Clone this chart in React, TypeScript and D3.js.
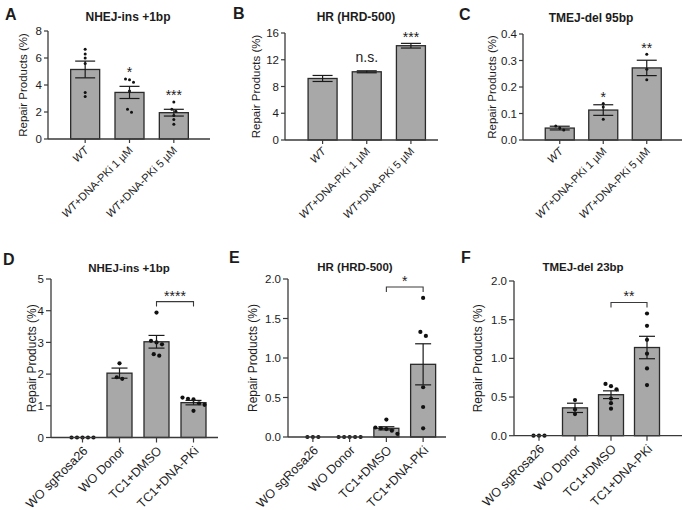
import React from "react";
import * as d3 from "d3";

// ---------- DATA ----------
const catsTop = ["WT", "WT+DNA-PKi 1 µM", "WT+DNA-PKi 5 µM"];
const catsBottom = ["WO sgRosa26", "WO Donor", "TC1+DMSO", "TC1+DNA-PKi"];

const meanA = [5.15, 3.45, 1.95];
const semA = [0.62, 0.45, 0.25];
const ptsA = [
  [6.65, 6.3, 6.0, 5.6, 3.45, 3.15],
  [4.45, 4.38, 4.2, 3.55, 2.2, 1.98],
  [2.75, 2.2, 2.05, 1.75, 1.45, 1.1],
];
const sigA = ["", "*", "***"];

const meanB = [9.2, 10.2, 14.1];
const semB = [0.45, 0.15, 0.35];
const ptsB: number[][] = [[], [], []];
const sigB = ["", "n.s.", "***"];

const meanC = [0.045, 0.113, 0.272];
const semC = [0.007, 0.02, 0.029];
const ptsC = [
  [0.053, 0.045, 0.038],
  [0.138, 0.125, 0.078],
  [0.324, 0.267, 0.227],
];
const sigC = ["", "*", "**"];

const meanD = [0, 2.03, 3.02, 1.1];
const semD = [0, 0.16, 0.2, 0.07];
const ptsD = [
  [0, 0, 0, 0, 0],
  [2.34, 1.9, 1.85],
  [3.94, 3.05, 3.0, 2.94, 2.63, 2.58],
  [1.26, 1.22, 1.2, 1.08, 1.03, 0.84],
];
const sigD = "****";

const meanE = [0, 0, 0.11, 0.92];
const semE = [0, 0, 0.02, 0.26];
const ptsE = [
  [0, 0, 0],
  [0, 0, 0, 0, 0],
  [0.22, 0.12, 0.11, 0.1, 0.08, 0.04],
  [1.76, 1.33, 1.28, 0.63, 0.38, 0.11],
];
const sigE = "*";

const meanF = [0, 0.36, 0.53, 1.14];
const semF = [0, 0.06, 0.05, 0.145];
const ptsF = [
  [0, 0, 0],
  [0.46, 0.34, 0.28],
  [0.67, 0.64, 0.6, 0.48, 0.42, 0.35],
  [1.58, 1.42, 1.24, 1.06, 0.87, 0.655],
];
const sigF = "**";

// ---------- STYLE ----------
const FONT = "'Liberation Sans', Arial, sans-serif";
const TXT = "#1c1c1c";
const AXIS = "#3a3a3a";
const BAR_FILL = "#a8a8a8";
const BAR_STROKE = "#2a2a2a";

type Layout = {
  axisX: number;
  right: number;
  top: number;
  bottom: number;
  xr: [number, number];
  barW: number;
  capW: number;
  r: number;
  gap: number;
  letter: [number, number];
  titleX: number;
  titleY: number;
  yLabelX: number;
  yLabelSize: number;
  tickLen: number;
  xLabelSize: number;
  xLabelOff: [number, number];
  row: "top" | "bottom";
};

type Cfg = {
  letter: string;
  title: string;
  cats: string[];
  means: number[];
  sems: number[];
  pts: number[][];
  yMax: number;
  yStep: number;
  fmt: string;
  sig: string[] | null;
  bracket: string | null;
  L: Layout;
};

function jitter(ys: number[], r: number, gap: number) {
  const idx = ys.map((y, i) => ({ y, i })).sort((a, b) => a.y - b.y);
  const offs = new Array(ys.length).fill(0);
  let cluster: { y: number; i: number }[] = [];
  const flush = () => {
    const n = cluster.length;
    cluster.forEach((c, k) => (offs[c.i] = (k - (n - 1) / 2) * gap));
    cluster = [];
  };
  for (const p of idx) {
    if (cluster.length && p.y - cluster[cluster.length - 1].y > 2 * r) flush();
    cluster.push(p);
  }
  flush();
  return offs;
}

function XLabel({ text, x, y, size }: { text: string; x: number; y: number; size: number }) {
  const italic = text.startsWith("WT");
  return (
    <text
      transform={`translate(${x},${y}) rotate(-45)`}
      textAnchor="end"
      fontSize={size}
      fontFamily={FONT}
      fill={TXT}
    >
      {italic ? (
        <>
          <tspan fontStyle="italic">WT</tspan>
          <tspan>{text.slice(2)}</tspan>
        </>
      ) : (
        text
      )}
    </text>
  );
}

function Panel({ c }: { c: Cfg }) {
  const L = c.L;
  const x = d3.scaleBand<string>().domain(c.cats).range(L.xr).paddingInner(0).paddingOuter(0);
  const y = d3.scaleLinear().domain([0, c.yMax]).range([L.bottom, L.top]);
  const ticks = d3.range(0, c.yMax + c.yStep / 2, c.yStep);
  const fmt = d3.format(c.fmt);
  const cx = (cat: string) => (x(cat) as number) + x.bandwidth() / 2;

  const topOf = (i: number) => {
    const vals = [c.means[i] + c.sems[i], ...c.pts[i]];
    return y(Math.max(...vals));
  };

  let bracketEl = null;
  if (c.bracket) {
    const i1 = 2, i2 = 3;
    const maxPx = Math.min(topOf(i1), topOf(i2));
    const by = maxPx - 11;
    const x1 = cx(c.cats[i1]);
    const x2 = cx(c.cats[i2]);
    bracketEl = (
      <g>
        <path d={`M${x1},${by + 5}V${by}H${x2}V${by + 5}`} fill="none" stroke={AXIS} strokeWidth={1.1} />
        <text x={(x1 + x2) / 2} y={by - 9 + 8} textAnchor="middle" fontSize={14} fontFamily={FONT} fill={TXT}>
          {c.bracket}
        </text>
      </g>
    );
  }

  return (
    <g>
      <text x={L.letter[0]} y={L.letter[1]} fontSize={16} fontWeight="bold" fontFamily={FONT} fill={TXT}>
        {c.letter}
      </text>
      <text x={L.titleX} y={L.titleY} textAnchor="middle" fontSize={L.row === "top" ? 12 : 11.5} fontWeight="bold" fontFamily={FONT} fill={TXT}>
        {c.title}
      </text>
      <text
        transform={`translate(${L.yLabelX},${(L.top + L.bottom) / 2}) rotate(-90)`}
        textAnchor="middle"
        dy="0.35em"
        fontSize={L.yLabelSize}
        fontFamily={FONT}
        fill={TXT}
      >
        Repair Products (%)
      </text>

      {/* bars */}
      {c.cats.map((cat, i) =>
        c.means[i] > 0 ? (
          <rect
            key={"b" + i}
            x={cx(cat) - L.barW / 2}
            y={y(c.means[i])}
            width={L.barW}
            height={L.bottom - y(c.means[i])}
            fill={BAR_FILL}
            stroke={BAR_STROKE}
            strokeWidth={1.3}
          />
        ) : null
      )}

      {/* points */}
      {c.cats.map((cat, i) => {
        const ys = c.pts[i].map((v) => y(v));
        const offs = jitter(ys, L.r, L.gap);
        return (
          <g key={"p" + i}>
            {ys.map((py, k) => (
              <circle key={k} cx={cx(cat) + offs[k]} cy={py} r={L.r} fill="#111" />
            ))}
          </g>
        );
      })}

      {/* error bars */}
      {c.cats.map((cat, i) => {
        if (c.sems[i] <= 0) return null;
        const xc = cx(cat);
        const y1 = y(c.means[i] + c.sems[i]);
        const y0 = y(c.means[i] - c.sems[i]);
        const hw = L.capW / 2;
        return (
          <g key={"e" + i} stroke="#1a1a1a" strokeWidth={1.2}>
            <line x1={xc} x2={xc} y1={y1} y2={y0} />
            <line x1={xc - hw} x2={xc + hw} y1={y1} y2={y1} />
            <line x1={xc - hw} x2={xc + hw} y1={y0} y2={y0} />
          </g>
        );
      })}

      {/* axes */}
      <line x1={L.axisX} x2={L.axisX} y1={L.top} y2={L.bottom} stroke={AXIS} strokeWidth={1.3} />
      <line x1={L.axisX} x2={L.right} y1={L.bottom} y2={L.bottom} stroke={AXIS} strokeWidth={1.3} />
      {ticks.map((t) => (
        <g key={"t" + t}>
          <line x1={L.axisX - L.tickLen} x2={L.axisX} y1={y(t)} y2={y(t)} stroke={AXIS} strokeWidth={1.2} />
          <text x={L.axisX - L.tickLen - 2} y={y(t)} dy="0.36em" textAnchor="end" fontSize={11.5} fontFamily={FONT} fill={TXT}>
            {fmt(t)}
          </text>
        </g>
      ))}
      {c.cats.map((cat) => (
        <g key={"x" + cat}>
          <line x1={cx(cat)} x2={cx(cat)} y1={L.bottom} y2={L.bottom + L.tickLen} stroke={AXIS} strokeWidth={1.2} />
          <XLabel text={cat} x={cx(cat) + L.xLabelOff[0]} y={L.bottom + L.xLabelOff[1]} size={L.xLabelSize} />
        </g>
      ))}

      {/* significance over bars */}
      {c.sig &&
        c.sig.map((s, i) => {
          if (!s) return null;
          const ty = topOf(i);
          const ns = s === "n.s.";
          return (
            <text
              key={"s" + i}
              x={cx(c.cats[i])}
              y={ns ? ty - 13 + 4 : ty - 9.5 + 8}
              textAnchor="middle"
              fontSize={ns ? 14 : 14}
              fontFamily={FONT}
              fill={TXT}
            >
              {s}
            </text>
          );
        })}
      {bracketEl}
    </g>
  );
}

const topBase = {
  barW: 29,
  capW: 20,
  r: 1.5,
  gap: 4,
  yLabelSize: 11.5,
  tickLen: 4,
  xLabelSize: 11,
  xLabelOff: [4, 12] as [number, number],
  row: "top" as const,
};
const botBase = {
  barW: 25,
  capW: 16,
  r: 2.1,
  gap: 5.5,
  yLabelSize: 12,
  tickLen: 5,
  xLabelSize: 12.5,
  xLabelOff: [6, 14] as [number, number],
  row: "bottom" as const,
};

const panels: Cfg[] = [
  {
    letter: "A", title: "NHEJ-ins +1bp", cats: catsTop, means: meanA, sems: semA, pts: ptsA,
    yMax: 8, yStep: 2, fmt: "d", sig: sigA, bracket: null,
    L: { ...topBase, axisX: 48, right: 210, top: 31, bottom: 139, xr: [63, 196], letter: [5, 20], titleX: 128, titleY: 21, yLabelX: 23 },
  },
  {
    letter: "B", title: "HR (HRD-500)", cats: catsTop, means: meanB, sems: semB, pts: ptsB,
    yMax: 16, yStep: 4, fmt: "d", sig: sigB, bracket: null,
    L: { ...topBase, axisX: 285, right: 438, top: 33, bottom: 140, xr: [300.5, 433], letter: [233, 19], titleX: 356, titleY: 21, yLabelX: 256 },
  },
  {
    letter: "C", title: "TMEJ-del 95bp", cats: catsTop, means: meanC, sems: semC, pts: ptsC,
    yMax: 0.4, yStep: 0.1, fmt: ".1f", sig: sigC, bracket: null,
    L: { ...topBase, axisX: 523, right: 682, top: 34, bottom: 140, xr: [538, 668.5], letter: [459, 20], titleX: 591, titleY: 22, yLabelX: 492 },
  },
  {
    letter: "D", title: "NHEJ-ins +1bp", cats: catsBottom, means: meanD, sems: semD, pts: ptsD,
    yMax: 5, yStep: 1, fmt: "d", sig: null, bracket: sigD,
    L: { ...botBase, axisX: 51, right: 218, top: 279, bottom: 437.5, xr: [64, 212], letter: [3, 265], titleX: 129, titleY: 272, yLabelX: 32 },
  },
  {
    letter: "E", title: "HR (HRD-500)", cats: catsBottom, means: meanE, sems: semE, pts: ptsE,
    yMax: 2, yStep: 0.5, fmt: ".1f", sig: null, bracket: sigE,
    L: { ...botBase, axisX: 288, right: 446, top: 279, bottom: 437, xr: [294.5, 441.5], letter: [229, 263], titleX: 355, titleY: 271, yLabelX: 252.5 },
  },
  {
    letter: "F", title: "TMEJ-del 23bp", cats: catsBottom, means: meanF, sems: semF, pts: ptsF,
    yMax: 2, yStep: 0.5, fmt: ".1f", sig: null, bracket: sigF,
    L: { ...botBase, axisX: 514, right: 682, top: 281, bottom: 435.7, xr: [521, 665], letter: [461, 263], titleX: 583, titleY: 271, yLabelX: 478 },
  },
];

export default function App() {
  return (
    <div style={{ position: "absolute", left: 0, top: 0 }}>
      <svg width={685} height={510} viewBox="0 0 685 510" style={{ display: "block", background: "#fff" }}>
        <rect width={685} height={510} fill="#fff" />
        {panels.map((p) => (
          <Panel key={p.letter} c={p} />
        ))}
      </svg>
    </div>
  );
}
